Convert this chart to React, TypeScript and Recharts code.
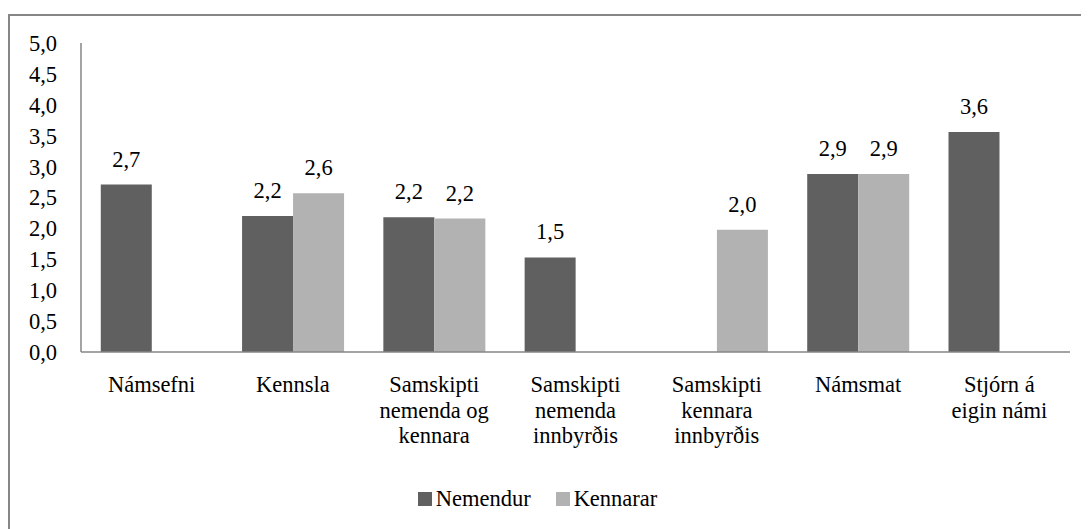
import { BarChart, Bar, XAxis, YAxis, Legend, LabelList } from 'recharts';

const categories = [
  'Námsefni',
  'Kennsla',
  'Samskipti\nnemenda og\nkennara',
  'Samskipti\nnemenda\ninnbyrðis',
  'Samskipti\nkennara\ninnbyrðis',
  'Námsmat',
  'Stjórn á\neigin námi',
];
const nemendur: (number | null)[] = [2.71, 2.2, 2.18, 1.53, null, 2.88, 3.56];
const kennarar: (number | null)[] = [null, 2.57, 2.16, null, 1.98, 2.88, null];
const yTicks = [0, 0.5, 1, 1.5, 2, 2.5, 3, 3.5, 4, 4.5, 5];

const data = categories.map((name, i) => ({
  name,
  nemendur: nemendur[i],
  kennarar: kennarar[i],
}));

const FONT = "'Liberation Serif', Times";
const FS = 22.5;
const DARK = '#606060';
const LIGHT = '#b2b2b2';
const AXIS = '#868686';

const fmt = (v: any) => (v == null ? '' : Number(v).toFixed(1).replace('.', ','));

function CategoryTick({ x, y, payload }: any) {
  const lines = String(payload.value).split('\n');
  return (
    <text x={x} y={y + 38} textAnchor="middle" fontFamily={FONT} fontSize={FS} fill="#000">
      {lines.map((l, i) => (
        <tspan key={i} x={x} dy={i === 0 ? 0 : 25.5}>
          {l}
        </tspan>
      ))}
    </text>
  );
}

function LegendBox() {
  const items = [
    { label: 'Nemendur', color: DARK },
    { label: 'Kennarar', color: LIGHT },
  ];
  return (
    <div style={{ display: 'flex', justifyContent: 'center', height: 30, alignItems: 'center', paddingLeft: 20 }}>
      {items.map((it) => (
        <div key={it.label} style={{ display: 'flex', alignItems: 'center', marginRight: 25 }}>
          <div style={{ width: 14, height: 14, background: it.color, marginRight: 4 }} />
          <span style={{ fontFamily: FONT, fontSize: FS, color: '#000' }}>{it.label}</span>
        </div>
      ))}
    </div>
  );
}

export default function App() {
  return (
    <div
      style={{
        marginTop: 6,
        width: 1081,
        height: 515,
        borderTop: `2px solid ${AXIS}`,
        borderLeft: `2px solid ${AXIS}`,
        background: '#fff',
        overflow: 'hidden',
        fontFamily: FONT,
      }}
    >
      <BarChart
        width={1079}
        height={513}
        data={data}
        margin={{ top: 27, right: 19, left: 0, bottom: 15 }}
        barCategoryGap="14%"
        barGap={0}
      >
        <YAxis
          width={71}
          domain={[0, 5]}
          ticks={yTicks}
          tickFormatter={fmt}
          tickLine={false}
          tickSize={0}
          tickMargin={24}
          axisLine={{ stroke: AXIS, strokeWidth: 1.5 }}
          tick={{ fill: '#000', fontSize: FS, fontFamily: FONT }}
          interval={0}
        />
        <XAxis
          dataKey="name"
          height={132}
          tickLine={false}
          tickSize={0}
          axisLine={{ stroke: AXIS, strokeWidth: 1.5 }}
          tick={<CategoryTick />}
          interval={0}
        />
        <Legend verticalAlign="bottom" height={30} content={<LegendBox />} />
        <Bar dataKey="nemendur" name="Nemendur" fill={DARK} isAnimationActive={false}>
          <LabelList dataKey="nemendur" position="top" offset={18} formatter={fmt} fill="#000" fontSize={FS} fontFamily={FONT} />
        </Bar>
        <Bar dataKey="kennarar" name="Kennarar" fill={LIGHT} isAnimationActive={false}>
          <LabelList dataKey="kennarar" position="top" offset={18} formatter={fmt} fill="#000" fontSize={FS} fontFamily={FONT} />
        </Bar>
      </BarChart>
    </div>
  );
}
